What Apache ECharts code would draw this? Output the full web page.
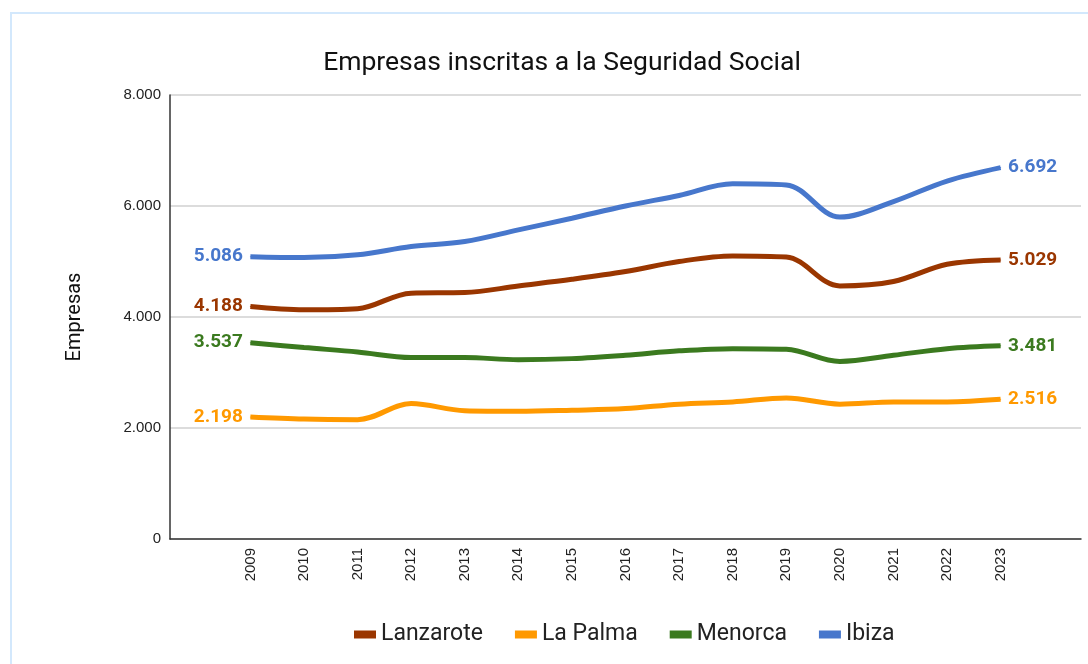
<!DOCTYPE html>
<html>
<head>
<meta charset="utf-8">
<script src="https://cdn.jsdelivr.net/npm/echarts@6/dist/echarts.min.js"></script>
<style>
  html, body { margin: 0; padding: 0; background: #fff; }
  #frame { position: absolute; left: 10px; top: 12px; width: 1200px; height: 800px; border: 2px solid #d3e8fc; box-sizing: border-box; }
  #main { position: absolute; left: 0; top: 0; width: 1088px; height: 664px; }
</style>
</head>
<body>
<div id="frame"></div>
<div id="main"></div>
<script>
    // años (con una categoría vacía a cada lado, como en el original)
    var years = ['2009', '2010', '2011', '2012', '2013', '2014', '2015', '2016',
                 '2017', '2018', '2019', '2020', '2021', '2022', '2023'];

    var lanzarote = [4188, 4130, 4150, 4430, 4440, 4560, 4680, 4820, 5000, 5100, 5080, 4560, 4640, 4950, 5029];
    var laPalma   = [2198, 2160, 2150, 2440, 2310, 2300, 2320, 2350, 2430, 2470, 2540, 2430, 2470, 2470, 2516];
    var menorca   = [3537, 3450, 3370, 3270, 3270, 3230, 3250, 3310, 3390, 3430, 3420, 3200, 3310, 3430, 3481];
    var ibiza     = [5086, 5070, 5120, 5270, 5360, 5570, 5780, 6000, 6190, 6400, 6380, 5800, 6080, 6450, 6692];

    var names  = ['Lanzarote', 'La Palma', 'Menorca', 'Ibiza'];
    var values = [lanzarote, laPalma, menorca, ibiza];
    var colors = ['#9a3600', '#ff9900', '#3b7a1f', '#4777cc'];

    function fmt(n) {
        return String(n).replace(/\B(?=(\d{3})+(?!\d))/g, '.');
    }

    var categories = [''].concat(years).concat(['']);

    var series = names.map(function (name, k) {
        var vals = values[k];
        var data = [null];
        vals.forEach(function (v, i) {
            if (i === 0 || i === vals.length - 1) {
                data.push({
                    value: v,
                    label: {
                        show: true,
                        position: i === 0 ? 'left' : 'right',
                        distance: 7
                    }
                });
            } else {
                data.push(v);
            }
        });
        data.push(null);
        return {
            name: name,
            type: 'line',
            smooth: 0.35,
            symbol: 'circle',
            symbolSize: 1,
            showSymbol: true,
            data: data,
            lineStyle: { width: 5, color: colors[k] },
            itemStyle: { color: colors[k] },
            label: {
                show: false,
                formatter: function (p) { return fmt(p.value); },
                color: colors[k],
                fontFamily: 'Roboto',
                fontWeight: 'bold',
                fontSize: 19
            },
            labelLayout: { hideOverlap: false },
            emphasis: { disabled: true }
        };
    });

    var chart = echarts.init(document.getElementById('main'));
    var option = {
        animation: false,
        title: {
            text: 'Empresas inscritas a la Seguridad Social',
            left: 557,
            textAlign: 'center',
            top: 45,
            textStyle: { fontFamily: 'Roboto', fontWeight: 'normal', fontSize: 26.5, color: '#111' }
        },
        legend: {
            data: names,
            left: 349,
            top: 618,
            icon: 'rect',
            itemWidth: 22,
            itemHeight: 8,
            itemGap: 32,
            textStyle: { fontFamily: 'Roboto', fontSize: 23, color: '#222' }
        },
        grid: { left: 170, right: 7, top: 95, bottom: 125 },
        xAxis: {
            type: 'category',
            data: categories,
            boundaryGap: true,
            axisLine: { lineStyle: { color: '#333', width: 1.5 } },
            axisTick: { show: false },
            axisLabel: {
                rotate: 90,
                interval: 0,
                margin: 9,
                fontFamily: 'Liberation Sans',
                fontSize: 15,
                color: '#222'
            }
        },
        yAxis: {
            type: 'value',
            min: 0,
            max: 8000,
            interval: 2000,
            name: 'Empresas',
            nameLocation: 'middle',
            nameGap: 85,
            nameTextStyle: { fontFamily: 'Roboto', fontSize: 20, color: '#111' },
            axisLine: { show: true, lineStyle: { color: '#333', width: 1.5 } },
            axisTick: { show: false },
            axisLabel: {
                margin: 9,
                fontFamily: 'Liberation Sans',
                fontSize: 15,
                color: '#222',
                formatter: function (v) { return fmt(v); }
            },
            splitLine: { lineStyle: { color: '#d0d0d0', width: 1.5 } }
        },
        series: series
    };
    chart.setOption(option);
</script>
</body>
</html>
